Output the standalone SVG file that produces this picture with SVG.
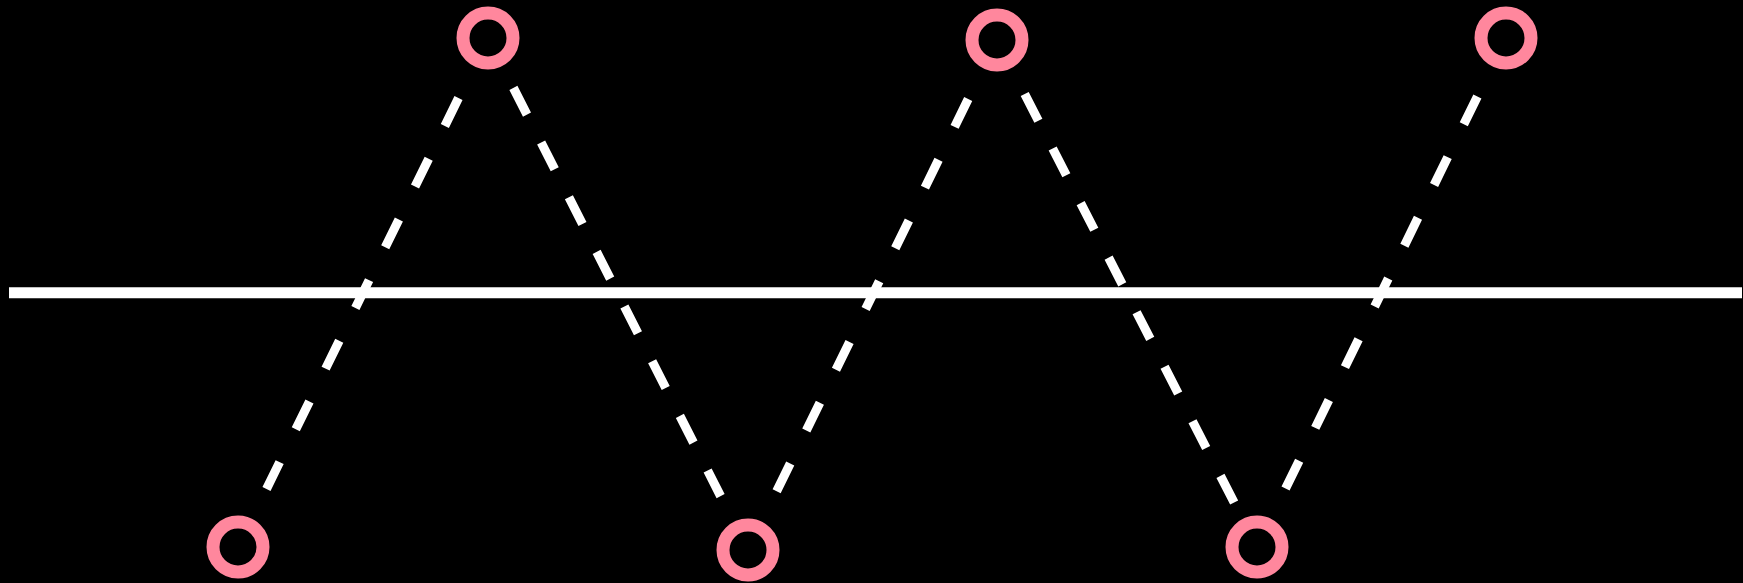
<svg xmlns="http://www.w3.org/2000/svg" width="1743" height="583" viewBox="0 0 1743 583">
  <style>
    .bg { fill: #000000; }
    .axis { stroke: #ffffff; stroke-width: 11; fill: none; }
    .edge { stroke: #ffffff; stroke-width: 9; fill: none; stroke-linecap: butt; }
    .e7 { stroke-dasharray: 31 36.6; }
    .e8 { stroke-dasharray: 30 31.3; }
    .node circle { fill: #000000; stroke: #FF879D; stroke-width: 13; }
  </style>
  <rect class="bg" x="0" y="0" width="1743" height="583"/>
  <g id="baseline">
    <line class="axis" x1="9" y1="292.8" x2="1742" y2="292.8"/>
  </g>
  <g id="connectors">
    <line class="edge e7" x1="458.5" y1="98.1" x2="266.5" y2="488.9"/>
    <line class="edge e8" x1="513.4" y1="87.9" x2="720.6" y2="496.1"/>
    <line class="edge e7" x1="968.2" y1="99.0" x2="776.3" y2="492.0"/>
    <line class="edge e8" x1="1024.7" y1="94.0" x2="1234.6" y2="503.4"/>
    <line class="edge e7" x1="1477.4" y1="96.4" x2="1284.9" y2="489.9"/>
  </g>
  <g id="node-top-1" class="node"><circle cx="488" cy="38" r="25"/></g>
  <g id="node-top-2" class="node"><circle cx="997" cy="40" r="25"/></g>
  <g id="node-top-3" class="node"><circle cx="1506" cy="38" r="25"/></g>
  <g id="node-bottom-1" class="node"><circle cx="238" cy="547" r="25"/></g>
  <g id="node-bottom-2" class="node"><circle cx="748" cy="550" r="25"/></g>
  <g id="node-bottom-3" class="node"><circle cx="1257" cy="547" r="25"/></g>
</svg>
